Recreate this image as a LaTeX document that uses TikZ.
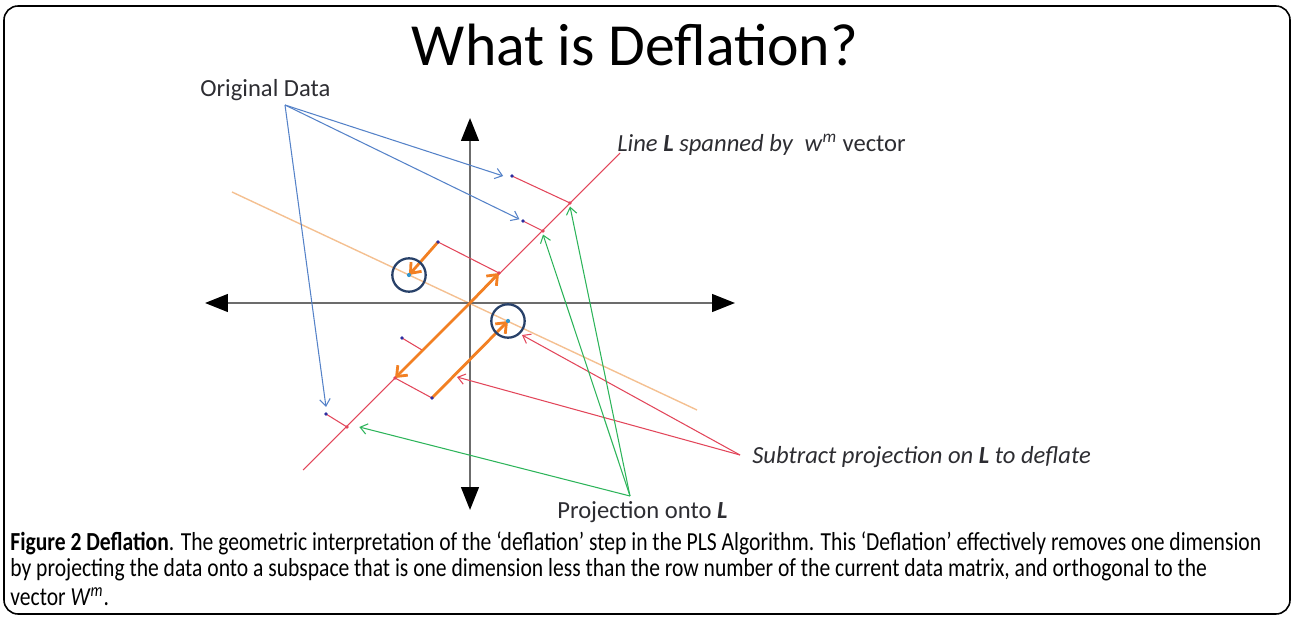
\documentclass[tikz,border=0pt]{standalone}
\usepackage{fontspec}
\setmainfont{Carlito}
\newfontfamily\capfont[FakeStretch=0.83]{Carlito}
\usetikzlibrary{arrows.meta}
\definecolor{datablue}{RGB}{85,130,200}
\definecolor{linered}{RGB}{226,70,90}
\definecolor{projgreen}{RGB}{45,180,90}
\definecolor{deforange}{RGB}{242,128,35}
\definecolor{planeorange}{RGB}{244,192,145}
\definecolor{ringblue}{RGB}{40,65,105}
\definecolor{pointblue}{RGB}{45,45,160}
\definecolor{hitblue}{RGB}{50,150,205}
\definecolor{labelgray}{RGB}{45,45,50}

\begin{document}
\begin{tikzpicture}[x=0.02cm,y=-0.02cm,
    thinarrow/.style={line width=0.6pt,-{Straight Barb[length=4pt,width=6pt]}},
    fatarrow/.style={deforange,line width=1.6pt,-{Straight Barb[length=5pt,width=8pt]}},
    axisline/.style={draw=gray!85!black,line width=1.4pt,
        {Triangle[length=13pt,width=10pt,color=black]}-{Triangle[length=13pt,width=10pt,color=black]}},
    projline/.style={linered,line width=0.6pt},
    lbl/.style={anchor=west,inner sep=0pt,text=labelgray,font=\fontsize{14}{16}\selectfont},
    captext/.style={anchor=west,inner sep=0pt,font=\capfont\fontsize{14.8}{17}\selectfont}]

  \useasboundingbox (0,0) rectangle (1295,618);
  \draw[rounded corners=8pt,line width=0.9pt] (4,6) rectangle (1290,614);

  % slide title and labels
  \node[font=\fontsize{34}{40}\selectfont] (title) at (635,45) {What is Deflation?};
  \node[lbl] (orig) at (200,90) {Original Data};
  \node[lbl] (linelbl) at (617,145) {\textit{Line} \textbf{\textit{L}} \textit{spanned by}\ \ \textit{w}\textsuperscript{\textit{m}} vector};
  \node[lbl] (sublbl) at (752,457) {\textit{Subtract projection on \textbf{L} to deflate}};
  \node[lbl] (projlbl) at (557,512) {Projection onto \textbf{\textit{L}}};

  % points
  \coordinate (o) at (470,303);
  \coordinate (xl) at (205,303);
  \coordinate (xr) at (735,303);
  \coordinate (yt) at (470,118);
  \coordinate (yb) at (470,510);
  \coordinate (Lbot) at (303,470);
  \coordinate (Ltop) at (620,153);
  \coordinate (Pl) at (232,192);
  \coordinate (Pr) at (697,410);
  \coordinate (D1) at (512,176);
  \coordinate (D2) at (523,221);
  \coordinate (D3) at (326,414);
  \coordinate (A) at (438,242);
  \coordinate (B) at (402,338);
  \coordinate (Bend) at (422,350);
  \coordinate (C) at (432,398);
  \coordinate (L1) at (570,203);
  \coordinate (L2) at (543,231);
  \coordinate (L3) at (499,273);
  \coordinate (L4) at (395,378);
  \coordinate (L5) at (347,427);
  \coordinate (Ahit) at (409,275);
  \coordinate (Chit) at (508,321);
  \coordinate (origtail) at (285,105);
  \coordinate (subtail) at (740,455);
  \coordinate (projtail) at (630,496);
  \coordinate (subtipA) at (522,335);
  \coordinate (subtipB) at (457,377);

  \draw[planeorange,line width=0.8pt] (Pl) -- (Pr);
  \draw[axisline] (xl) -- (xr);
  \draw[axisline] (yt) -- (yb);
  \draw[projline] (Lbot) -- (Ltop);

  \draw[projline] (D1) -- (L1);
  \draw[projline] (D2) -- (L2);
  \draw[projline] (D3) -- (L5);
  \draw[projline] (A) -- (L3);
  \draw[projline] (B) -- (Bend);
  \draw[projline] (C) -- (L4);

  \draw[fatarrow] (o) -- (L3);
  \draw[fatarrow] (o) -- (L4);
  \draw[fatarrow] (A) -- (Ahit);
  \draw[fatarrow] (C) -- (Chit);

  \draw[ringblue,line width=1.3pt] (Ahit) circle (9.5pt);
  \draw[ringblue,line width=1.3pt] (Chit) circle (9.5pt);

  \foreach \p in {D1,D2,D3,A,B,C}
    \fill[pointblue] (\p) circle (1.1pt);
  \foreach \p in {L1,L2,L3,L4,L5}
    \fill[linered] (\p) circle (1.1pt);
  \foreach \p in {Ahit,Chit}
    \fill[hitblue] (\p) circle (1.2pt);

  % callouts
  \draw[thinarrow,datablue] (origtail) -- ([xshift=-5pt]D1);
  \draw[thinarrow,datablue] (origtail) -- ([xshift=-2pt,yshift=1pt]D2);
  \draw[thinarrow,datablue] (origtail) -- ([yshift=4pt]D3);
  \draw[thinarrow,linered] (subtail) -- (subtipA);
  \draw[thinarrow,linered] (subtail) -- (subtipB);
  \draw[thinarrow,projgreen] (projtail) -- ([yshift=-2pt]L1);
  \draw[thinarrow,projgreen] (projtail) -- ([yshift=-2pt]L2);
  \draw[thinarrow,projgreen] (projtail) -- ([xshift=7pt]L5);

  % caption
  \node[captext] (cap1) at (10,543) {\textbf{Figure 2 Deflation}. The geometric interpretation of the ‘deflation’ step in the PLS Algorithm. This ‘Deflation’ effectively removes one dimension};
  \node[captext] (cap2) at (10,570) {by projecting the data onto a subspace that is one dimension less than the row number of the current data matrix, and orthogonal to the};
  \node[captext] (cap3) at (10,597) {vector \textit{W}\textsuperscript{\textit{m}}.};
\end{tikzpicture}
\end{document}
